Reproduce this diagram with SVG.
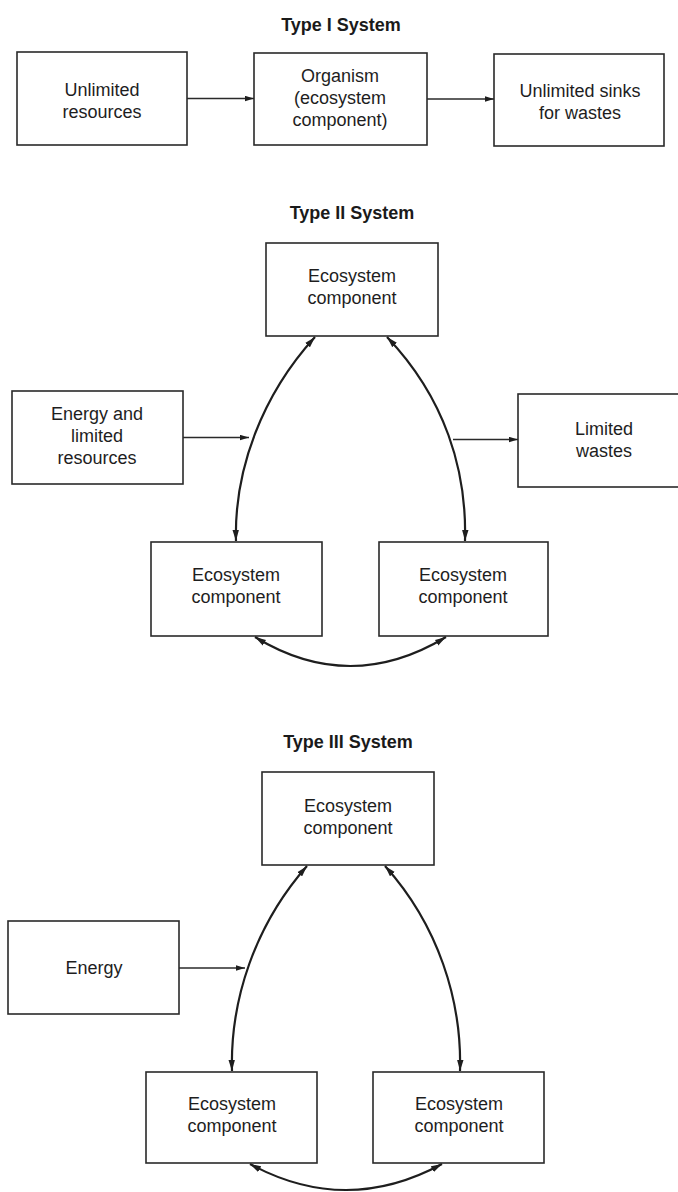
<svg xmlns="http://www.w3.org/2000/svg" width="678" height="1192" viewBox="0 0 678 1192">
  <defs>
    <style>
      .box { fill: #ffffff; stroke: #2a2a2a; stroke-width: 1.6; }
      .lbl { font-family: "Liberation Sans", Arial, sans-serif; font-size: 18px; fill: #1e1e1e; text-anchor: middle; }
      .ttl { font-family: "Liberation Sans", Arial, sans-serif; font-size: 18px; font-weight: bold; fill: #1a1a1a; text-anchor: middle; }
      .flow { fill: none; stroke: #2a2a2a; stroke-width: 1.4; marker-end: url(#tipS); }
      .loop { fill: none; stroke: #1e1e1e; stroke-width: 2.2; marker-start: url(#tipL); marker-end: url(#tipL); }
    </style>
    <marker id="tipS" viewBox="0 0 10 6" refX="10" refY="3" markerWidth="9" markerHeight="6" markerUnits="userSpaceOnUse" orient="auto">
      <path d="M0,0 L10,3 L0,6 Z" fill="#1e1e1e"/>
    </marker>
    <marker id="tipL" viewBox="0 0 12 7" refX="12" refY="3.5" markerWidth="11" markerHeight="7" markerUnits="userSpaceOnUse" orient="auto-start-reverse">
      <path d="M0,0 L12,3.5 L0,7 Z" fill="#1e1e1e"/>
    </marker>
  </defs>

  <rect width="678" height="1192" fill="#ffffff"/>

  <!-- Section titles -->
  <g id="titles">
    <text class="ttl" x="341" y="31">Type I System</text>
    <text class="ttl" x="352" y="219">Type II System</text>
    <text class="ttl" x="348" y="748">Type III System</text>
  </g>

  <!-- Type I -->
  <g id="t1-resources">
    <rect class="box" x="17" y="52" width="170" height="93"/>
    <text class="lbl" x="102" y="96">Unlimited</text>
    <text class="lbl" x="102" y="118">resources</text>
  </g>
  <g id="t1-organism">
    <rect class="box" x="254" y="53" width="173" height="92"/>
    <text class="lbl" x="340" y="82">Organism</text>
    <text class="lbl" x="340" y="104">(ecosystem</text>
    <text class="lbl" x="340" y="126">component)</text>
  </g>
  <g id="t1-sinks">
    <rect class="box" x="494" y="54" width="170" height="92"/>
    <text class="lbl" x="580" y="97">Unlimited sinks</text>
    <text class="lbl" x="580" y="119">for wastes</text>
  </g>

  <!-- Type II -->
  <g id="t2-top">
    <rect class="box" x="266" y="243" width="172" height="93"/>
    <text class="lbl" x="352" y="282">Ecosystem</text>
    <text class="lbl" x="352" y="304">component</text>
  </g>
  <g id="t2-input">
    <rect class="box" x="12" y="391" width="171" height="93"/>
    <text class="lbl" x="97" y="420">Energy and</text>
    <text class="lbl" x="97" y="442">limited</text>
    <text class="lbl" x="97" y="464">resources</text>
  </g>
  <g id="t2-wastes">
    <rect class="box" x="518" y="394" width="172" height="93"/>
    <text class="lbl" x="604" y="435">Limited</text>
    <text class="lbl" x="604" y="457">wastes</text>
  </g>
  <g id="t2-left">
    <rect class="box" x="151" y="542" width="171" height="94"/>
    <text class="lbl" x="236" y="581">Ecosystem</text>
    <text class="lbl" x="236" y="603">component</text>
  </g>
  <g id="t2-right">
    <rect class="box" x="379" y="542" width="169" height="94"/>
    <text class="lbl" x="463" y="581">Ecosystem</text>
    <text class="lbl" x="463" y="603">component</text>
  </g>

  <!-- Type III -->
  <g id="t3-top">
    <rect class="box" x="262" y="772" width="172" height="93"/>
    <text class="lbl" x="348" y="812">Ecosystem</text>
    <text class="lbl" x="348" y="834">component</text>
  </g>
  <g id="t3-energy">
    <rect class="box" x="8" y="921" width="171" height="93"/>
    <text class="lbl" x="94" y="974">Energy</text>
  </g>
  <g id="t3-left">
    <rect class="box" x="146" y="1072" width="171" height="91"/>
    <text class="lbl" x="232" y="1110">Ecosystem</text>
    <text class="lbl" x="232" y="1132">component</text>
  </g>
  <g id="t3-right">
    <rect class="box" x="373" y="1072" width="171" height="91"/>
    <text class="lbl" x="459" y="1110">Ecosystem</text>
    <text class="lbl" x="459" y="1132">component</text>
  </g>

  <!-- Connectors -->
  <g id="connectors">
    <!-- Type I flow -->
    <path class="flow" d="M187,98.5 L254,98.5"/>
    <path class="flow" d="M427,99 L494,99"/>

    <!-- Type II -->
    <path class="flow" d="M183,437.5 L249,437.5"/>
    <path class="flow" d="M453,439.5 L518,439.5"/>
    <path class="loop" d="M236,541 C234,470 262,395 315,337"/>
    <path class="loop" d="M465,541 C467,470 445,398 387,337"/>
    <path class="loop" d="M255,637 Q350,695 446,637"/>

    <!-- Type III -->
    <path class="flow" d="M179,968 L245,968"/>
    <path class="loop" d="M232,1071 C230,1000 255,925 307,866"/>
    <path class="loop" d="M460,1071 C462,1000 438,925 385,866"/>
    <path class="loop" d="M250,1164 Q346,1216 442,1164"/>
  </g>
</svg>
